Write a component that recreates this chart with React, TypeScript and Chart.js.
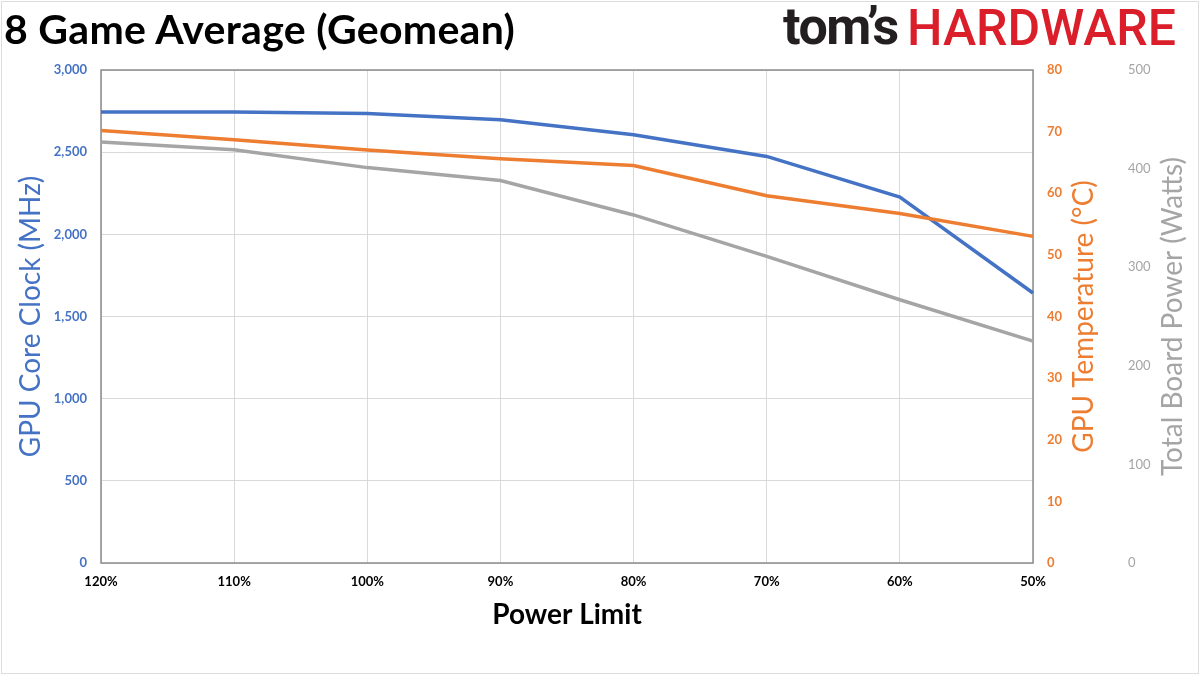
import React, { useEffect, useRef } from "react";
import { Chart, registerables } from "chart.js";

Chart.register(...registerables);

const powerLimits = ["120%", "110%", "100%", "90%", "80%", "70%", "60%", "50%"];
const coreClockMHz = [2744, 2744, 2736, 2697, 2606, 2474, 2227, 1643];
const gpuTempC = [70.2, 68.7, 67.0, 65.6, 64.5, 59.6, 56.7, 53.0];
const boardPowerW = [427, 419, 401, 388, 353, 311, 267, 225];

const BLUE = "#4472C4";
const ORANGE = "#ED7D31";
const GRAY = "#A5A5A5";
const FONT = "Lato, 'Open Sans', sans-serif";

const frameAndTitles = {
  id: "frameAndTitles",
  beforeDatasetsDraw(chart: any) {
    const { ctx, chartArea } = chart;
    ctx.save();
    ctx.strokeStyle = "#8c8c8c";
    ctx.lineWidth = 1.5;
    ctx.strokeRect(chartArea.left, chartArea.top, chartArea.right - chartArea.left, chartArea.bottom - chartArea.top);
    ctx.restore();
  },
  afterDraw(chart: any) {
    const { ctx, chartArea } = chart;
    const cy = (chartArea.top + chartArea.bottom) / 2;
    const items = [
      { id: "y1", text: "GPU Temperature (°C)", color: ORANGE, off: 51 },
      { id: "y2", text: "Total Board Power (Watts)", color: GRAY, off: 53 },
    ];
    items.forEach((it) => {
      const sc = chart.scales[it.id];
      ctx.save();
      ctx.translate(sc.left + it.off, cy);
      ctx.rotate(-Math.PI / 2);
      ctx.font = `28px ${FONT}`;
      ctx.fillStyle = it.color;
      ctx.textAlign = "center";
      ctx.textBaseline = "middle";
      ctx.fillText(it.text, 0, 0);
      ctx.restore();
    });
  },
};

export default function App() {
  const ref = useRef<HTMLCanvasElement>(null);

  useEffect(() => {
    if (!ref.current) return;
    const chart = new Chart(ref.current, {
      type: "line",
      data: {
        labels: powerLimits,
        datasets: [
          { label: "GPU Core Clock (MHz)", data: coreClockMHz, yAxisID: "y", borderColor: BLUE, backgroundColor: BLUE, borderWidth: 3.5, pointRadius: 0, tension: 0, order: 3 },
          { label: "GPU Temperature (°C)", data: gpuTempC, yAxisID: "y1", borderColor: ORANGE, backgroundColor: ORANGE, borderWidth: 3.5, pointRadius: 0, tension: 0, order: 2 },
          { label: "Total Board Power (Watts)", data: boardPowerW, yAxisID: "y2", borderColor: GRAY, backgroundColor: GRAY, borderWidth: 3.5, pointRadius: 0, tension: 0, order: 1 },
        ],
      },
      options: {
        animation: false,
        responsive: false,
        maintainAspectRatio: false,
        devicePixelRatio: 1,
        layout: { padding: { top: 70, left: 0, right: 0, bottom: 0 } },
        plugins: { legend: { display: false }, tooltip: { enabled: false } },
        scales: {
          x: {
            offset: false,
            grid: { color: "#d9d9d9", drawTicks: false },
            border: { display: false },
            ticks: { color: "#000", font: { family: FONT, size: 13, weight: "bold" }, padding: 11, maxRotation: 0 },
            title: { display: true, text: "Power Limit", color: "#000", font: { family: FONT, size: 28, weight: "bold" }, padding: { top: 0, bottom: 43 } },
            afterFit: (s: any) => { s.height = 112; },
          },
          y: {
            position: "left",
            min: 0,
            max: 3000,
            ticks: { stepSize: 500, color: BLUE, font: { family: FONT, size: 13, weight: "bold" }, padding: 14, callback: (v: any) => Number(v).toLocaleString("en-US") },
            grid: { color: "#d9d9d9", drawTicks: false },
            border: { display: false },
            title: { display: true, text: "GPU Core Clock (MHz)", color: BLUE, font: { family: FONT, size: 28 }, padding: { top: 14, bottom: 0 } },
            afterFit: (s: any) => { s.width = 101; },
          },
          y1: {
            position: "right",
            min: 0,
            max: 80,
            ticks: { stepSize: 10, color: ORANGE, font: { family: FONT, size: 13, weight: "bold" }, padding: 14 },
            grid: { display: false, drawTicks: false },
            border: { display: false },
            afterFit: (s: any) => { s.width = 87; },
          },
          y2: {
            position: "right",
            min: 0,
            max: 500,
            ticks: { stepSize: 100, color: GRAY, font: { family: FONT, size: 13 }, padding: 8 },
            grid: { display: false, drawTicks: false },
            border: { display: false },
            afterFit: (s: any) => { s.width = 80; },
          },
        },
      },
      plugins: [frameAndTitles],
    });
    return () => chart.destroy();
  }, []);

  return (
    <div style={{ position: "absolute", left: 0, top: 0, width: 1200, height: 675, background: "#fff", overflow: "hidden" }}>
      <div style={{ position: "absolute", left: 1, top: 1, width: 1196, height: 671, border: "1px solid #dcdcdc" }} />
      <canvas ref={ref} width={1200} height={675} style={{ position: "absolute", left: 0, top: 0, width: 1200, height: 675 }} />
      <div style={{ position: "absolute", left: 4, top: 8, fontFamily: FONT, fontWeight: 700, fontSize: 41, lineHeight: "41px", letterSpacing: 0.3, color: "#000", whiteSpace: "nowrap" }}>
        8 Game Average (Geomean)
      </div>
      <div style={{ position: "absolute", left: 783, top: 1, fontFamily: "Roboto, sans-serif", fontWeight: 700, fontSize: 52, lineHeight: "52px", color: "#231F20", whiteSpace: "nowrap", letterSpacing: -1.5 }}>
        tom’s
      </div>
      <div style={{ position: "absolute", left: 907, top: 3, fontFamily: "Roboto, sans-serif", fontWeight: 500, fontSize: 50, lineHeight: "50px", color: "#DA1F2A", whiteSpace: "nowrap" }}>
        HARDWARE
      </div>
    </div>
  );
}
